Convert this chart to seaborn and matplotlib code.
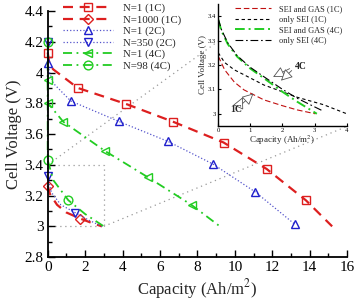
import matplotlib
matplotlib.use("Agg")
import matplotlib.pyplot as plt
import seaborn as sns
from matplotlib.ticker import MultipleLocator, FuncFormatter

sns.set_style("ticks")
plt.rcParams['font.family'] = ['Liberation Serif', 'DejaVu Serif']
plt.rcParams['mathtext.fontset'] = 'stix'

# ---------------- main data ----------------
n1_1c_x = [0, 0.1, 0.3, 1.6, 4.2, 6.7, 9.4, 11.7, 13.8, 15.2]
n1_1c_y = [4.13, 4.05, 4.02, 3.90, 3.795, 3.68, 3.545, 3.373, 3.169, 3.0]
n1_1c_mk = [0, 3, 4, 5, 6, 7, 8]

n1000_1c_x = [0, 0.12, 0.5, 1.0, 1.75, 2.4, 2.9]
n1000_1c_y = [3.265, 3.21, 3.14, 3.09, 3.05, 3.02, 3.0]
n1000_1c_mk = [0, 4]

n1_2c_x = [0, 0.1, 0.3, 1.23, 3.8, 6.43, 8.83, 11.1, 13.19]
n1_2c_y = [4.065, 4.0, 3.93, 3.815, 3.682, 3.552, 3.405, 3.223, 3.015]
n1_2c_mk = [0, 3, 4, 5, 6, 7, 8]

n350_2c_x = [0, 0, 0.2, 0.7, 1.46, 2.2, 2.9]
n350_2c_y = [4.2, 3.325, 3.22, 3.14, 3.09, 3.04, 3.0]
n350_2c_mk = [0, 1, 4]

n1_4c_x = [0, 0.02, 0.83, 3.06, 5.37, 7.7, 9.2]
n1_4c_y = [3.95, 3.80, 3.68, 3.49, 3.318, 3.138, 3.0]
n1_4c_mk = [0, 1, 2, 3, 4, 5]

n98_4c_x = [0, 0, 0.3, 1.1, 2.0, 3.0]
n98_4c_y = [4.2, 3.43, 3.30, 3.17, 3.08, 3.0]
n98_4c_mk = [0, 1, 3]

# ---------------- inset data ----------------
sg_1c_x = [0, 0.2, 0.5, 0.8, 1.42, 2.0, 2.45, 3.02]
sg_1c_y = [3.236, 3.18, 3.13, 3.098, 3.057, 3.033, 3.016, 3.0]

os_1c_x = [0, 0.2, 0.5, 0.8, 1.42, 2.0, 2.45, 3.28, 4.0]
os_1c_y = [3.25, 3.21, 3.18, 3.16, 3.118, 3.09, 3.068, 3.037, 3.0]

sg_4c_x = [0, 0.1, 0.3, 0.59, 1.0, 1.42, 2.0, 2.45, 3.07]
sg_4c_y = [3.385, 3.34, 3.285, 3.234, 3.185, 3.146, 3.09, 3.05, 3.0]

os_4c_x = [0, 0.1, 0.3, 0.59, 1.0, 1.42, 2.0, 2.45, 3.28]
os_4c_y = [3.39, 3.345, 3.29, 3.238, 3.19, 3.152, 3.1, 3.064, 3.01]

RED = "#dd1f1f"
BLUE = "#1f1fcc"
BLUEL = "#5555cc"
GREEN = "#22cc22"
DASH = (0, (4.5, 3))
DASHDOT = (0, (5, 2.5, 1, 2.5))

fig = plt.figure(figsize=(3.56, 3.05), dpi=100)
ax = fig.add_axes([0.134, 0.157, 0.841, 0.807])

def line(axx, x, y, **kw):
    sns.lineplot(x=x, y=y, sort=False, estimator=None, ax=axx, legend=False, **kw)

mk = dict(mfc='none', ms=5.8, mew=1.0, clip_on=False)
line(ax, n1_1c_x, n1_1c_y, color=RED, lw=1.6, linestyle=DASH, marker='s',
     markevery=n1_1c_mk, mec=RED, label='N=1 (1C)', **mk)
line(ax, n1000_1c_x, n1000_1c_y, color=RED, lw=1.6, linestyle=DASH, marker='D',
     markevery=n1000_1c_mk, mec=RED, label='N=1000 (1C)', mfc='none', ms=5.0, mew=1.0, clip_on=False)
line(ax, n1_2c_x, n1_2c_y, color=BLUEL, lw=0.9, linestyle=':', marker='^',
     markevery=n1_2c_mk, mec=BLUE, label='N=1 (2C)', **mk)
line(ax, n350_2c_x, n350_2c_y, color=BLUEL, lw=0.9, linestyle=':', marker='v',
     markevery=n350_2c_mk, mec=BLUE, label='N=350 (2C)', **mk)
line(ax, n1_4c_x, n1_4c_y, color=GREEN, lw=1.3, linestyle=DASHDOT, marker='<',
     markevery=n1_4c_mk, mec=GREEN, label='N=1 (4C)', **mk)
line(ax, n98_4c_x, n98_4c_y, color=GREEN, lw=1.3, linestyle=DASHDOT, marker='o',
     markevery=n98_4c_mk, mec=GREEN, label='N=98 (4C)', mfc='none', ms=6.3, mew=1.0, clip_on=False)

# zoom box and connectors
gk = dict(color='#999999', lw=0.9, linestyle=(0, (1, 3)), zorder=0.5)
ax.plot([0, 3, 3, 0], [3.4, 3.4, 3.0, 3.0], **gk)
ax.plot([0, 9.3], [3.4, 4.22], **gk)
ax.plot([3, 16], [3.0, 3.65], **gk)

ax.set_xlim(0, 16)
ax.set_ylim(2.8, 4.4)
ax.xaxis.set_major_locator(MultipleLocator(2))
ax.xaxis.set_minor_locator(MultipleLocator(1))
ax.yaxis.set_major_locator(MultipleLocator(0.2))
ax.yaxis.set_minor_locator(MultipleLocator(0.1))
ax.yaxis.set_major_formatter(FuncFormatter(lambda v, p: f"{v:.1f}".rstrip('0').rstrip('.')))
ax.tick_params(which='both', direction='in', width=1.0, labelsize=11, colors='black')
ax.tick_params(which='major', length=5, pad=3)
ax.tick_params(which='minor', length=3)
for s in ['top', 'right']:
    ax.spines[s].set_visible(False)
for s in ['left', 'bottom']:
    ax.spines[s].set_linewidth(1.3)
    ax.spines[s].set_color('black')
ax.set_xlabel('Capacity (Ah/m$^2$)', fontsize=12, labelpad=2)
ax.set_ylabel('Cell Voltage (V)', fontsize=12, labelpad=2)

leg = ax.legend(loc='upper left', bbox_to_anchor=(0.05, 1.03), frameon=False,
                fontsize=7.8, handlelength=4.6, handletextpad=1.0, labelspacing=0.15,
                borderpad=0, borderaxespad=0, numpoints=1)

# ---------------- inset ----------------
ins = fig.add_axes([0.613, 0.587, 0.361, 0.400])
ins.set_facecolor('white')
line(ins, sg_1c_x, sg_1c_y, color='#c01010', lw=0.8, linestyle=(0, (5, 2.5)), label='SEI and GAS (1C)')
line(ins, os_1c_x, os_1c_y, color='black', lw=0.8, linestyle=(0, (3, 2.5)), label='only SEI (1C)')
line(ins, sg_4c_x, sg_4c_y, color=GREEN, lw=1.4, linestyle=(0, (5, 2, 1, 2)), label='SEI and GAS (4C)')
line(ins, os_4c_x, os_4c_y, color='black', lw=0.8, linestyle=(0, (7, 2.5, 1.5, 2.5)), label='only SEI (4C)')
ins.set_xlim(0, 4)
ins.set_ylim(2.95, 3.45)
ins.xaxis.set_major_locator(MultipleLocator(1))
ins.yaxis.set_major_locator(MultipleLocator(0.1))
ins.yaxis.set_major_formatter(FuncFormatter(lambda v, p: f"{v:.1f}".rstrip('0').rstrip('.')))
ins.tick_params(direction='in', length=2.5, width=0.8, labelsize=4.8, pad=1.5, colors='black')
for s in ['top', 'right']:
    ins.spines[s].set_visible(False)
for s in ['left', 'bottom']:
    ins.spines[s].set_linewidth(1.0)
    ins.spines[s].set_color('black')
ins.set_xlabel('Capacity (Ah/m$^2$)', fontsize=6.5, labelpad=0.5)
ins.set_ylabel('Cell Voltage (V)', fontsize=6.5, labelpad=1)
ins.legend(loc='upper left', bbox_to_anchor=(0.13, 0.99), frameon=False,
           fontsize=6, handlelength=4.3, handletextpad=1.0, labelspacing=0.3,
           borderpad=0, borderaxespad=0)

ap = dict(arrowstyle='-|>,head_length=0.7,head_width=0.35', fc='white', ec='#555555', lw=0.6)
ins.annotate('', xy=(1.63, 3.146), xytext=(2.3, 3.19), arrowprops=ap)
ins.annotate('', xy=(1.89, 3.128), xytext=(2.35, 3.185), arrowprops=ap)
ins.text(2.4, 3.193, '4C', fontsize=7, fontweight='bold', ha='left', va='center')
ins.annotate('', xy=(0.8, 3.078), xytext=(0.65, 3.035), arrowprops=ap)
ins.annotate('', xy=(1.16, 3.091), xytext=(0.7, 3.035), arrowprops=ap)
ins.text(0.55, 3.016, '1C', fontsize=7, fontweight='bold', ha='center', va='center')

fig.savefig('out.png', dpi=100)
